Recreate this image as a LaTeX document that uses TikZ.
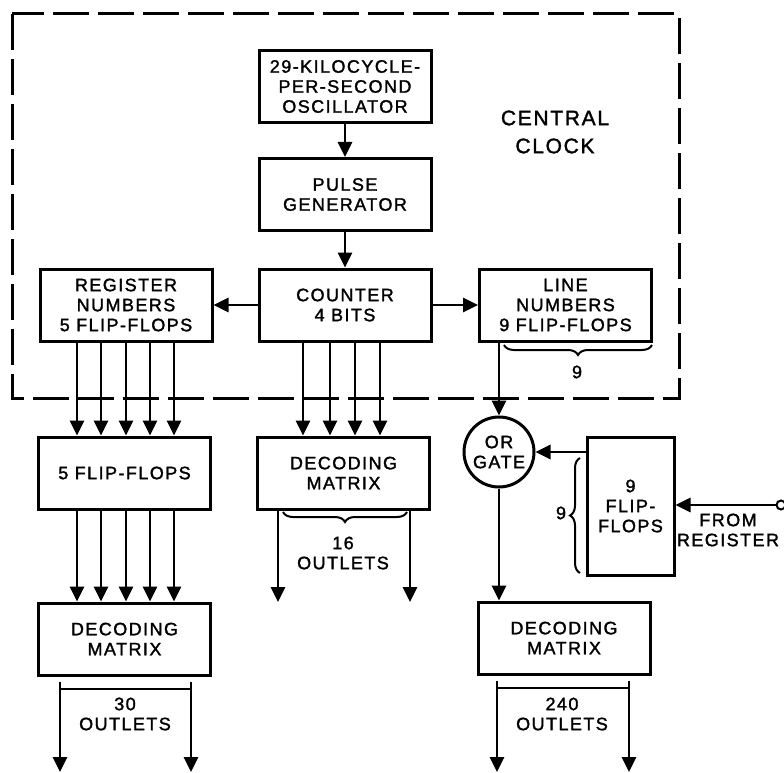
\documentclass[tikz,border=0pt]{standalone}
\usepackage{fontspec}
\setmainfont{Liberation Sans}[LetterSpace=8, FakeBold=1.6]
\usetikzlibrary{arrows.meta,positioning,decorations.pathreplacing}
\newcommand\boxfont{\fontsize{18}{20}\selectfont}
\newcommand\bigfont{\fontsize{21}{28}\selectfont}
\tikzset{
  blk/.style={rectangle, draw, line width=3pt, align=center, inner sep=2pt,
              minimum width=172pt, minimum height=72pt, font=\boxfont},
  gate/.style={circle, draw, line width=3pt, align=center, inner sep=0pt,
               minimum size=70pt, font=\boxfont},
  port/.style={circle, draw, line width=2pt, fill=white, inner sep=0pt, minimum size=9pt},
  lbl/.style={align=center, font=\boxfont, inner sep=1pt},
  clock/.style={line width=3pt, dash pattern=on 36pt off 9pt},
  fl/.style={-{Triangle[length=15pt,width=14pt]}, line width=2.8pt},
  tie/.style={line width=2pt},
  brc/.style={line width=2pt, decorate, decoration={brace, amplitude=10pt}},
}
\begin{document}
\begin{tikzpicture}[x=1pt,y=-1pt]
\useasboundingbox (0,0) rectangle (784,773);
\draw[clock] (12,14) rectangle (679,398);
\node[lbl, font=\bigfont] (clk) at (555,132) {CENTRAL\\CLOCK};
\node[blk] (osc) at (345,86.5) {29-KILOCYCLE-\\PER-SECOND\\OSCILLATOR};
\node[blk] (pulse) at (345,194.5) {PULSE\\GENERATOR};
\node[blk] (counter) at (345,305) {COUNTER\\4 BITS};
\node[blk] (regnum) at (126,305) {REGISTER\\NUMBERS\\5 FLIP-FLOPS};
\node[blk] (linenum) at (565.5,305) {LINE\\NUMBERS\\9 FLIP-FLOPS};
\node[blk] (ff5) at (124.5,473) {5 FLIP-FLOPS};
\node[blk] (dec1) at (343.5,473) {DECODING\\MATRIX};
\node[blk] (dec2) at (124.5,639) {DECODING\\MATRIX};
\node[blk] (dec3) at (564,638) {DECODING\\MATRIX};
\node[gate] (or) at (499,452) {OR\\GATE};
\node[blk, minimum width=87pt, minimum height=138pt] (ff9) at (630.5,506) {9\\FLIP-\\FLOPS};
\node[port] (src) at (781,505) {};
\node[lbl] (from) at (728,530) {FROM\\REGISTER};
\node[lbl] (n9a) at (577,372) {9};
\node[lbl] (n9b) at (561,513) {9};
\node[lbl] (n16) at (343,553) {16\\OUTLETS};
\node[lbl] (n30) at (125,714) {30\\OUTLETS};
\node[lbl] (n240) at (562,714) {240\\OUTLETS};
\path (278,602) coordinate (o16a) (410,602) coordinate (o16b)
      (60,772) coordinate (o30a) (191,772) coordinate (o30b)
      (497,772) coordinate (o240a) (629,772) coordinate (o240b);
\draw[fl] (osc) -- (pulse);
\draw[fl] (pulse) -- (counter);
\draw[fl] (counter) -- (regnum);
\draw[fl] (counter) -- (linenum);
\foreach \x in {77,101,126,150,174} {
  \draw[fl] (\x,0 |- regnum.south) -- (\x,0 |- ff5.north);
  \draw[fl] (\x,0 |- ff5.south) -- (\x,0 |- dec2.north);
}
\foreach \x in {303,330,355,380}
  \draw[fl] (\x,0 |- counter.south) -- (\x,0 |- dec1.north);
\draw[fl] (o16a |- dec1.south) -- (o16a);
\draw[fl] (o16b |- dec1.south) -- (o16b);
\draw[fl] ([yshift=-5pt]o30a |- dec2.south) -- (o30a);
\draw[fl] ([yshift=-5pt]o30b |- dec2.south) -- (o30b);
\draw[fl] ([yshift=-5pt]o240a |- dec3.south) -- (o240a);
\draw[fl] ([yshift=-5pt]o240b |- dec3.south) -- (o240b);
\draw[tie] ([yshift=-12pt]o30a |- dec2.south) -- ([yshift=-12pt]o30b |- dec2.south);
\draw[tie] ([yshift=-12pt]o240a |- dec3.south) -- ([yshift=-12pt]o240b |- dec3.south);
\draw[fl] (or.north |- linenum.south) -- (or.north);
\draw[fl] (or.south) -- (or.south |- dec3.north);
\draw[fl] (ff9.west |- or.east) -- (or.east);
\draw[fl] (src) -- (ff9.east |- src);
\draw[brc] (407,512) -- (283,512);
\draw[brc] (652,345) -- (504,345);
\draw[brc] (580,573) -- (580,458);
\end{tikzpicture}
\end{document}
